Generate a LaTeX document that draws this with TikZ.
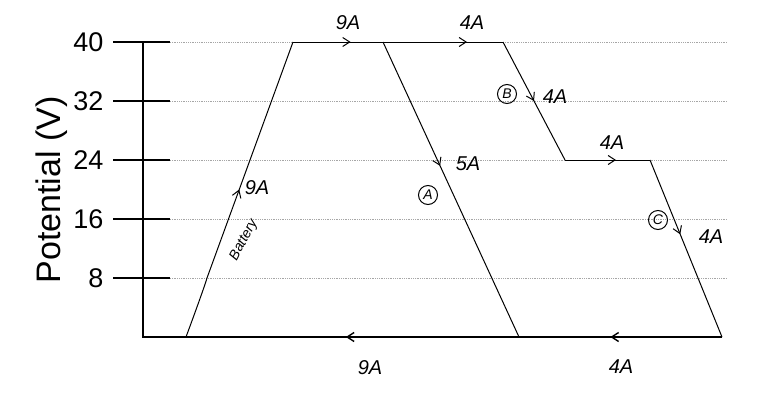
\documentclass[tikz,border=0pt]{standalone}
\usepackage{fontspec}
\setmainfont{Liberation Sans}
\usetikzlibrary{arrows.meta,decorations.markings}
\begin{document}
\begin{tikzpicture}[x=1pt,y=-1pt,
  grid/.style={densely dotted,gray!70,line width=0.8pt},
  tick/.style={line width=1.6pt},
  curve/.style={line width=1pt},
  hand/.style={font=\itshape\fontsize{20}{20}\selectfont},
  circ/.style={draw,circle,minimum size=19pt,inner sep=0pt,line width=1pt,font=\itshape\fontsize{14}{14}\selectfont},
  ticklab/.style={anchor=east,font=\fontsize{27}{27}\selectfont},
  mk/.style={postaction={decorate,decoration={markings,mark=at position #1 with {\arrow{Straight Barb[length=7pt,width=9pt]}}}}}
]
\useasboundingbox (0,0) rectangle (769,402);
% axis
\coordinate (ax0) at (143,337);
\coordinate (ax1) at (143,42);
\draw[line width=1.6pt] (ax1) -- (ax0) -- (186,337);
% grid lines and ticks
\foreach \v/\y in {40/42,32/101,24/160,16/219,8/278}{
  \draw[tick] (113,\y) -- (170,\y);
  \draw[grid] (170,\y) -- (727,\y);
  \node[ticklab] at (107,\y) {\v};
}
\node[rotate=90,font=\fontsize{34}{34}\selectfont] (ylab) at (52,190) {Potential (V)};
% circuit points
\coordinate (P0) at (186,337);
\coordinate (P1) at (293,42);
\coordinate (Q) at (383,42);
\coordinate (R) at (503,42);
\coordinate (S) at (565,160);
\coordinate (T) at (650,160);
\coordinate (U) at (722,337);
\coordinate (V) at (519,337);
% battery
\draw[curve,mk=0.5] (P0) .. controls (196,310) and (205,285) .. (207,278) -- (P1);
% top segments
\draw[curve,mk=0.64] (P1) -- (Q);
\draw[curve,mk=0.7] (Q) -- (R);
% branch A
\draw[curve,mk=0.42] (Q) -- (V);
% branch B
\draw[curve,mk=0.5] (R) -- (S);
\draw[curve,mk=0.6] (S) -- (T);
% branch C
\draw[curve,mk=0.42] (T) -- (U);
% bottom return
\draw[line width=1.4pt,mk=0.55] (U) -- (V);
\draw[line width=1.4pt,mk=0.52] (V) -- (P0);
% labels
\node[hand] (l1) at (348,23) {9A};
\node[hand] (l2) at (472,23) {4A};
\node[hand] (l3) at (555,97) {4A};
\node[hand] (l4) at (612,143) {4A};
\node[hand] (l5) at (468,164) {5A};
\node[hand] (l6) at (711,237) {4A};
\node[hand] (l7) at (257,188) {9A};
\node[hand] (l8) at (370,368) {9A};
\node[hand] (l9) at (621,367) {4A};
\node[rotate=62,font=\itshape\fontsize{14}{14}\selectfont] (bat) at (244,240) {Battery};
\node[circ] (cA) at (428,195) {A};
\node[circ] (cB) at (507,94) {B};
\node[circ] (cC) at (658,220) {C};
\end{tikzpicture}
\end{document}
